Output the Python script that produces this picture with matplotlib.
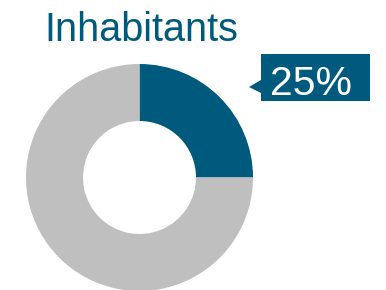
import matplotlib.pyplot as plt
from matplotlib.patches import Polygon

# data
labels = ["Inhabitants", "Others"]
shares = [25, 75]
colors = ["#005A7D", "#BFBFBF"]
title = "Inhabitants"

W, H = 386, 290
fig = plt.figure(figsize=(W / 100, H / 100), dpi=100)
ax = fig.add_axes([0, 0, 1, 1])
ax.set_xlim(0, W)
ax.set_ylim(0, H)
ax.set_aspect("equal")
ax.axis("off")

# donut
ax.pie(shares, colors=colors, startangle=90, counterclock=False,
       center=(139.5, H - 177.5), radius=113.5,
       wedgeprops=dict(width=57, edgecolor="none"))
ax.set_xlim(0, W)
ax.set_ylim(0, H)

# title
ax.text(44, H - 41, title, fontsize=28.5, color=colors[0],
        family="Liberation Sans", ha="left", va="baseline")

# callout box with pointer
y_top, y_bot = H - 54, H - 101
box = Polygon([(261, y_top), (370, y_top), (370, y_bot), (261, y_bot),
               (261, H - 93), (249, H - 87), (261, H - 80)],
              closed=True, facecolor=colors[0], edgecolor="none")
ax.add_patch(box)
ax.text(311, H - 95, f"{shares[0]}%", fontsize=29.5, color="white",
        family="Liberation Sans", ha="center", va="baseline")

fig.savefig("out.png", dpi=100)
